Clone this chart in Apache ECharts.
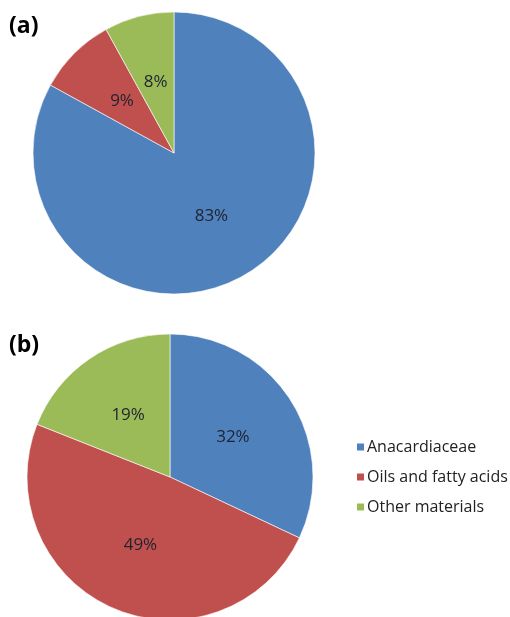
<!DOCTYPE html>
<html>
<head>
<meta charset="utf-8">
<script src="https://cdn.jsdelivr.net/npm/echarts@6/dist/echarts.min.js"></script>
<style>
html,body{margin:0;padding:0;background:#fff;}
#chart{width:510px;height:617px;}
</style>
</head>
<body>
<div id="chart"></div>
<script>
var categories = ['Anacardiaceae', 'Oils and fatty acids', 'Other materials'];
var valuesA = [83, 9, 8];
var valuesB = [32, 49, 19];
var panelTitles = ['(a)', '(b)'];
var colors = ['#4F81BD', '#C0504D', '#9BBB59'];

function makeData(vals) {
  return categories.map(function (c, i) { return { name: c, value: vals[i] }; });
}

var labelStyle = {
  show: true,
  position: 'inside',
  formatter: '{c}%',
  color: '#1f2330',
  fontSize: 17,
  fontFamily: 'Open Sans'
};

var chart = echarts.init(document.getElementById('chart'));
chart.setOption({
  animation: false,
  color: colors,
  title: [
    { text: panelTitles[0], left: 4, top: 10, textStyle: { fontSize: 23, fontWeight: 'bold', color: '#000', fontFamily: 'Open Sans' } },
    { text: panelTitles[1], left: 4, top: 329, textStyle: { fontSize: 23, fontWeight: 'bold', color: '#000', fontFamily: 'Open Sans' } }
  ],
  legend: {
    orient: 'vertical',
    left: 350,
    top: 434,
    icon: 'rect',
    itemWidth: 9,
    itemHeight: 9,
    itemGap: 14,
    textStyle: { fontSize: 16, color: '#222', fontFamily: 'Open Sans', padding: [0, 0, 0, -3] },
    data: categories
  },
  series: [
    {
      type: 'pie',
      center: [174, 153],
      radius: [0, 141],
      startAngle: 90,
      clockwise: true,
      label: labelStyle,
      labelLine: { show: false },
      itemStyle: { borderColor: '#fff', borderWidth: 0.6 },
      emphasis: { disabled: true },
      data: makeData(valuesA)
    },
    {
      type: 'pie',
      center: [170, 477],
      radius: [0, 143],
      startAngle: 90,
      clockwise: true,
      label: labelStyle,
      labelLine: { show: false },
      itemStyle: { borderColor: '#fff', borderWidth: 0.6 },
      emphasis: { disabled: true },
      data: makeData(valuesB)
    }
  ]
});
</script>
</body>
</html>
